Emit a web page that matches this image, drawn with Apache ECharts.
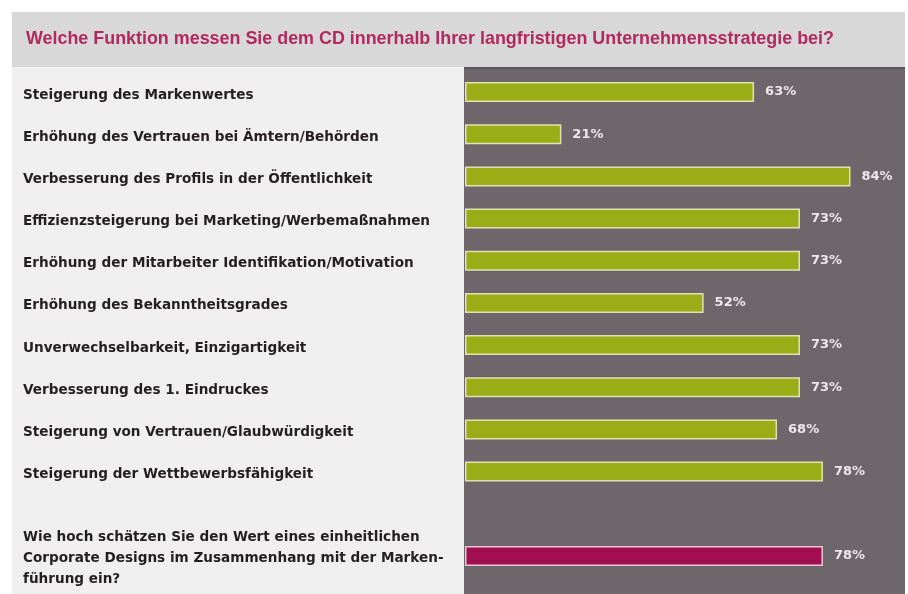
<!DOCTYPE html>
<html>
<head>
<meta charset="utf-8">
<script src="https://cdn.jsdelivr.net/npm/echarts@6/dist/echarts.min.js"></script>
<style>
  html, body { margin: 0; padding: 0; background: #ffffff; }
  #chart { width: 908px; height: 594px; }
</style>
</head>
<body>
<div id="chart"></div>
<script>
// survey answers, top to bottom (empty slot keeps the gap before the last question)
const categories = [
	'Steigerung des Markenwertes',
	'Erhöhung des Vertrauen bei Ämtern/Behörden',
	'Verbesserung des Profils in der Öffentlichkeit',
	'Effizienzsteigerung bei Marketing/Werbemaßnahmen',
	'Erhöhung der Mitarbeiter Identifikation/Motivation',
	'Erhöhung des Bekanntheitsgrades',
	'Unverwechselbarkeit, Einzigartigkeit',
	'Verbesserung des 1. Eindruckes',
	'Steigerung von Vertrauen/Glaubwürdigkeit',
	'Steigerung der Wettbewerbsfähigkeit',
	'',
	'Wie hoch schätzen Sie den Wert eines einheitlichen\nCorporate Designs im Zusammenhang mit der Marken-\nführung ein?'
];
const values = [63, 21, 84, 73, 73, 52, 73, 73, 68, 78, null, 78];
const highlight = [false, false, false, false, false, false, false, false, false, false, false, true];

const titleText = 'Welche Funktion messen Sie dem CD innerhalb Ihrer langfristigen Unternehmensstrategie bei?';

const chart = echarts.init(document.getElementById('chart'));

const option = {
	animation: false,
	backgroundColor: '#ffffff',
	graphic: [
		// header band
		{ type: 'rect', shape: { x: 12, y: 12, width: 893, height: 55 }, style: { fill: '#d7d8d7' }, z: -10 },
		// left label panel
		{ type: 'rect', shape: { x: 12, y: 67, width: 452, height: 527 }, style: { fill: '#efefef' }, z: -10 },
		// right bar panel
		{ type: 'rect', shape: { x: 464, y: 67, width: 441, height: 527 }, style: { fill: '#6d676b' }, z: -10 },
		{ type: 'rect', shape: { x: 464, y: 67, width: 441, height: 2 }, style: { fill: '#5c575a' }, z: -9 }
	],
	title: {
		text: titleText,
		left: 21,
		top: 25,
		textStyle: {
			color: '#b3285f',
			fontFamily: 'Liberation Sans',
			fontWeight: 'bold',
			fontSize: 17.9
		}
	},
	// grid 0 holds the bars, grid 1 only the labels (sits a few px lower, like the original)
	grid: [
		{ left: 465, top: 71, width: 413, height: 506 },
		{ left: 465, top: 74, width: 413, height: 506 }
	],
	xAxis: [
		{ type: 'value', gridIndex: 0, min: 0, max: 90, show: false },
		{ type: 'value', gridIndex: 1, min: 0, max: 90, show: false }
	],
	yAxis: [
		{
			type: 'category',
			gridIndex: 0,
			inverse: true,
			data: categories,
			show: false
		},
		{
			type: 'category',
			gridIndex: 1,
			inverse: true,
			data: categories,
			axisLine: { show: false },
			axisTick: { show: false },
			splitLine: { show: false },
			axisLabel: {
				interval: 0,
				align: 'left',
				margin: 442,
				color: '#231f20',
				fontFamily: 'DejaVu Sans',
				fontWeight: 'bold',
				fontSize: 13.6,
				lineHeight: 21
			}
		}
	],
	series: [{
		type: 'bar',
		xAxisIndex: 0,
		yAxisIndex: 0,
		barWidth: 20,
		data: values.map((v, i) => ({
			value: v,
			itemStyle: highlight[i]
				? { color: '#a20f50', borderColor: '#e6c7d3', borderWidth: 1.5 }
				: { color: '#98ad16', borderColor: '#dde4b0', borderWidth: 1.5 }
		})),
		label: {
			show: true,
			position: 'right',
			distance: 11,
			formatter: p => p.value == null ? '' : p.value + '%',
			color: '#ece8ea',
			fontFamily: 'DejaVu Sans',
			fontWeight: 'bold',
			fontSize: 13
		}
	}]
};

chart.setOption(option);
</script>
</body>
</html>
